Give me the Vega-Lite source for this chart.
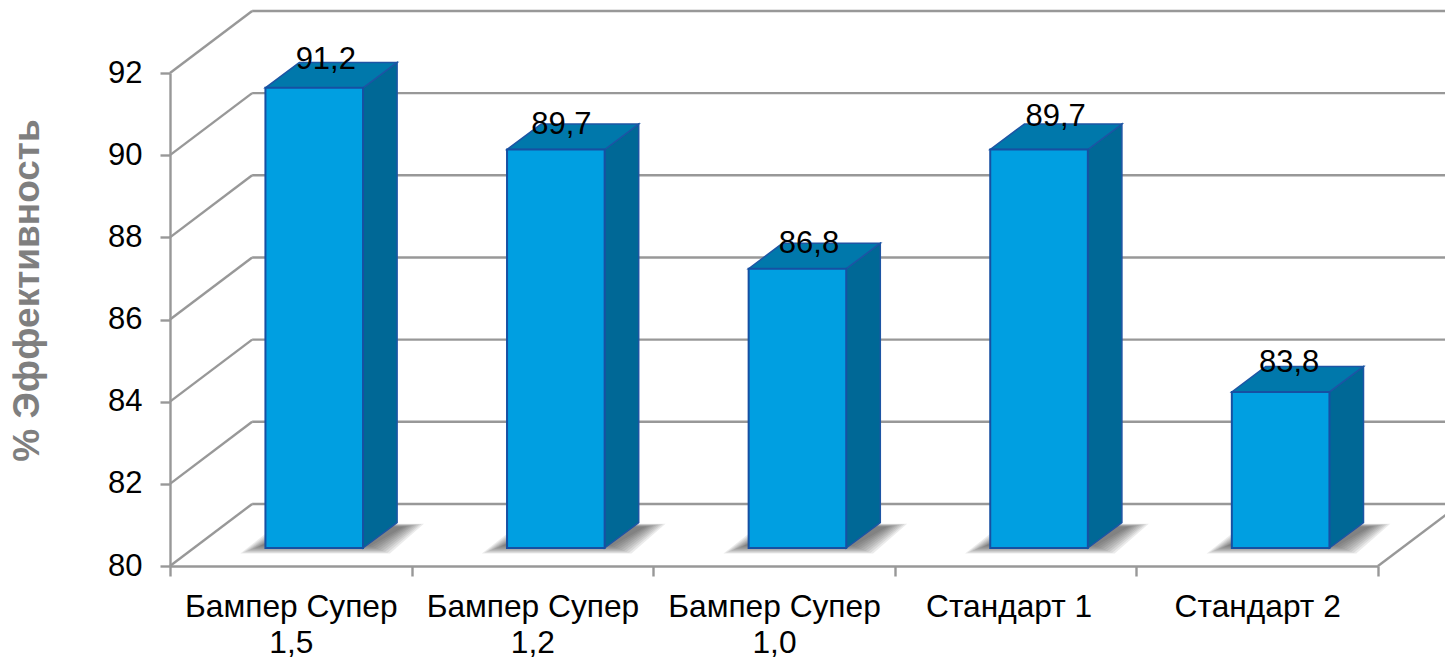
{"$schema":"https://vega.github.io/schema/vega-lite/v6.json","width":1208,"height":493,"autosize":"none","padding":{"left":170,"top":73,"right":67,"bottom":93},"background":"white","config":{"view":{"stroke":null},"font":"Liberation Sans"},"datasets":{"bars":[{"product":"Бампер Супер 1,5","value":91.2},{"product":"Бампер Супер 1,2","value":89.7},{"product":"Бампер Супер 1,0","value":86.8},{"product":"Стандарт 1","value":89.7},{"product":"Стандарт 2","value":83.8}],"levels":[{"level":80},{"level":82},{"level":84},{"level":86},{"level":88},{"level":90},{"level":92}]},"layer":[{"layer":[{"data":{"name":"levels"},"transform":[{"calculate":"datum.level+1.51","as":"backLevel"}],"mark":{"type":"rule","color":"#989898","strokeWidth":2.4},"encoding":{"x":{"datum":0,"type":"quantitative","scale":{"domain":[0,5],"nice":false,"zero":false},"axis":null},"x2":{"datum":0.34},"y":{"field":"level","type":"quantitative","scale":{"domain":[80,92],"nice":false,"zero":false},"axis":{"values":[80,82,84,86,88,90,92],"title":"% Эффективность","titleFont":"Liberation Sans","titleFontSize":37,"titleFontWeight":"bold","titleColor":"#7f7f7f","titleX":-124,"titleY":217,"labelFont":"Liberation Sans","labelFontSize":31,"labelColor":"#000000","labelPadding":18,"tickSize":10,"tickColor":"#989898","tickWidth":2.4,"domainColor":"#989898","domainWidth":2.4,"grid":false}},"y2":{"field":"backLevel"}}},{"data":{"name":"levels"},"transform":[{"calculate":"datum.level+1.51","as":"backLevel"}],"mark":{"type":"rule","color":"#989898","strokeWidth":2.4},"encoding":{"x":{"datum":0.34,"type":"quantitative","axis":null},"x2":{"datum":5.34},"y":{"field":"backLevel","type":"quantitative","axis":null}}},{"data":{"values":[{"floor":80}]},"transform":[{"calculate":"datum.floor+1.51","as":"backLevel"}],"mark":{"type":"rule","color":"#989898","strokeWidth":2.4},"encoding":{"x":{"datum":5,"type":"quantitative","axis":null},"x2":{"datum":5.34},"y":{"field":"floor","type":"quantitative","axis":null},"y2":{"field":"backLevel"}}},{"data":{"name":"bars"},"transform":[{"window":[{"op":"row_number","as":"n"}]},{"calculate":"datum.n-1","as":"i"},{"calculate":"[0.01,0.02,0.03,0.04,0.05,0.06,0.07,0.08,0.09]","as":"k"},{"flatten":["k"]},{"calculate":"[0,1]","as":"t"},{"flatten":["t"]},{"calculate":"datum.t==0?80.5-2.2*datum.k:80.95+0.9*datum.k","as":"sy"},{"calculate":"datum.i+(datum.t==0?0.381:0.538)-datum.k","as":"sx"},{"calculate":"datum.i+(datum.t==0?0.82:0.961)+datum.k","as":"sx2"}],"mark":{"type":"area","orient":"horizontal","color":"#3a3a3a","opacity":0.1},"encoding":{"y":{"field":"sy","type":"quantitative","axis":null},"x":{"field":"sx","type":"quantitative","axis":null},"x2":{"field":"sx2"},"detail":[{"field":"product"},{"field":"k"}]}},{"data":{"name":"bars"},"transform":[{"window":[{"op":"row_number","as":"n"}]},{"calculate":"datum.n-1","as":"i"},{"calculate":"[0,1]","as":"t"},{"flatten":["t"]},{"calculate":"datum.i+0.799+0.141*datum.t","as":"sx"},{"calculate":"80.438+0.62*datum.t","as":"low"},{"calculate":"datum.value+0.438+0.62*datum.t","as":"high"}],"mark":{"type":"area","orient":"vertical","fill":"#006896","stroke":"#1d55a4","strokeWidth":1.5},"encoding":{"x":{"field":"sx","type":"quantitative","axis":null},"y":{"field":"low","type":"quantitative","axis":null},"y2":{"field":"high"},"detail":{"field":"product"}}},{"data":{"name":"bars"},"transform":[{"window":[{"op":"row_number","as":"n"}]},{"calculate":"datum.n-1","as":"i"},{"calculate":"[0,1]","as":"t"},{"flatten":["t"]},{"calculate":"datum.i+0.395+0.141*datum.t","as":"sx"},{"calculate":"datum.i+0.799+0.141*datum.t","as":"sx2"},{"calculate":"datum.value+0.438+0.62*datum.t","as":"sy"}],"mark":{"type":"area","orient":"horizontal","fill":"#0078ab","stroke":"#1d55a4","strokeWidth":1.5},"encoding":{"y":{"field":"sy","type":"quantitative","axis":null},"x":{"field":"sx","type":"quantitative","axis":null},"x2":{"field":"sx2"},"detail":{"field":"product"}}},{"data":{"name":"bars"},"transform":[{"window":[{"op":"row_number","as":"n"}]},{"calculate":"datum.n-1+0.395","as":"left"},{"calculate":"datum.n-1+0.799","as":"right"},{"calculate":"80.438","as":"low"},{"calculate":"datum.value+0.438","as":"high"}],"mark":{"type":"rect","fill":"#009fe1","stroke":"#1650a2","strokeWidth":2},"encoding":{"x":{"field":"left","type":"quantitative","axis":null},"x2":{"field":"right"},"y":{"field":"low","type":"quantitative","axis":null},"y2":{"field":"high"}}}],"resolve":{"axis":{"y":"independent"}}},{"data":{"name":"bars"},"transform":[{"window":[{"op":"row_number","as":"n"}]},{"calculate":"replace(format(datum.value,'.1f'),'.',',')","as":"label"}],"mark":{"type":"text","font":"Liberation Sans","fontSize":31,"color":"#000000","align":"center","baseline":"middle","dx":{"expr":"[35,29,35,40,32][datum.n-1]"},"dy":{"expr":"[-46,-42,-43,-50,-47][datum.n-1]"}},"encoding":{"x":{"field":"product","type":"nominal","sort":null,"scale":{"type":"band","paddingInner":0,"paddingOuter":0},"axis":{"title":null,"tickBand":"extent","labelAngle":0,"labelAlign":"center","labelBaseline":"top","labelFont":"Liberation Sans","labelFontSize":31.7,"labelColor":"#000000","labelPadding":15,"labelLineHeight":36,"labelLimit":0,"labelOffset":{"condition":{"test":"datum.label=='Стандарт 1'","value":-7},"value":0},"labelExpr":"datum.label=='Стандарт 1'||datum.label=='Стандарт 2'?datum.label:[slice(datum.label,0,12),slice(datum.label,13)]","tickSize":10,"tickColor":"#989898","tickWidth":2.4,"domainColor":"#989898","domainWidth":2.4,"grid":false}},"y":{"field":"value","type":"quantitative","axis":null},"text":{"field":"label"}}}],"resolve":{"scale":{"x":"independent"},"axis":{"y":"independent"}}}
